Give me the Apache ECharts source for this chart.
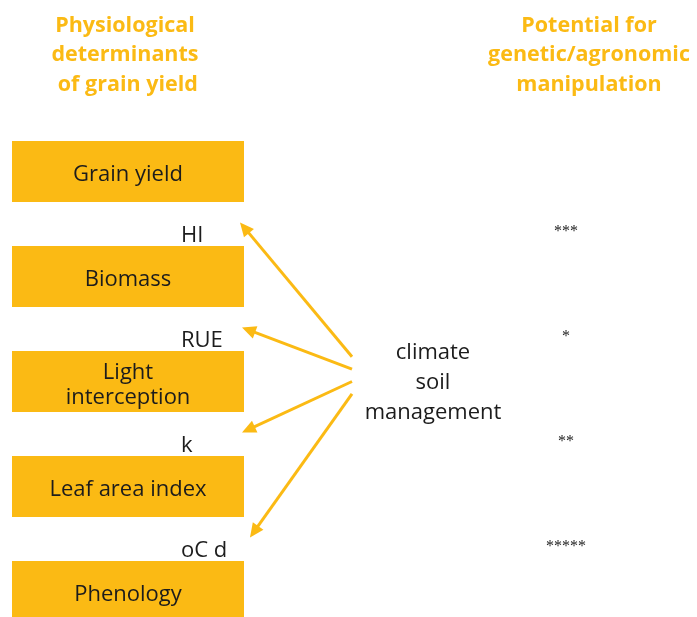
<!DOCTYPE html>
<html><head><meta charset="utf-8">
<script src="https://cdn.jsdelivr.net/npm/echarts@6/dist/echarts.min.js"></script>
<style>html,body{margin:0;padding:0;background:#fff}#c{width:697px;height:617px}</style>
</head><body><div id="c"></div>
<script>
// ---- content ----
const headerLeft = ['Physiological', 'determinants', ' of grain yield'];
const headerRight = ['Potential for', 'genetic/agronomic', 'manipulation'];
const boxLabels = ['Grain yield', 'Biomass', 'Light\ninterception', 'Leaf area index', 'Phenology'];
const traitLabels = ['HI', 'RUE', 'k', 'oC d'];
const potentialStars = ['***', '*', '**', '*****'];
const drivers = ['climate', 'soil', 'management'];

// ---- style ----
const ORANGE = '#FBBA14';
const INK = '#1c1c1c';
const SANS = '"Open Sans", Lato, sans-serif';
const DY = 2.5; // baseline nudge for sans text

const chart = echarts.init(document.getElementById('c'), null, {renderer: 'canvas'});

function textEl(x, y, text, opt) {
  return {
    type: 'text', x: x, y: y, silent: true,
    style: Object.assign({
      text: text, fill: INK, fontFamily: SANS, fontSize: 22,
      align: 'center', verticalAlign: 'middle',
      textAlign: 'center', textVerticalAlign: 'middle'
    }, opt || {})
  };
}

const series = [
  // boxes
  {
    type: 'custom', coordinateSystem: 'cartesian2d', clip: false, silent: true,
    data: boxLabels.map((l, i) => [128, i]),
    renderItem: function (params, api) {
      const i = params.dataIndex;
      const a = api.coord([12, i - 0.2905]);
      const b = api.coord([244, i + 0.2905]);
      const c = api.coord([128, i]);
      return {
        type: 'group', children: [
          {type: 'rect', shape: {x: a[0], y: a[1], width: b[0] - a[0], height: b[1] - a[1]}, style: {fill: ORANGE}},
          textEl(c[0], c[1] + DY + 1, boxLabels[i], {lineHeight: 25})
        ]
      };
    }
  },
  // trait labels
  {
    type: 'custom', coordinateSystem: 'cartesian2d', clip: false, silent: true,
    data: traitLabels.map((l, i) => [181, i + 0.585]),
    renderItem: function (params, api) {
      const p = api.coord([api.value(0), api.value(1)]);
      return textEl(p[0], p[1] + DY + 0.5, traitLabels[params.dataIndex], {align: 'left', textAlign: 'left'});
    }
  },
  // potential stars
  {
    type: 'custom', coordinateSystem: 'cartesian2d', clip: false, silent: true,
    data: potentialStars.map((l, i) => [566, i + 0.57]),
    renderItem: function (params, api) {
      const p = api.coord([api.value(0), api.value(1)]);
      return textEl(p[0], p[1], potentialStars[params.dataIndex], {fontFamily: '"Liberation Serif", serif', fontSize: 16});
    }
  },
  // drivers text
  {
    type: 'custom', coordinateSystem: 'cartesian2d', clip: false, silent: true,
    data: drivers.map((l, i) => [433, 1.7 + i * 0.2857]),
    renderItem: function (params, api) {
      const p = api.coord([api.value(0), api.value(1)]);
      return textEl(p[0], p[1] + DY, drivers[params.dataIndex]);
    }
  },
  // arrows from drivers to trait gaps
  {
    type: 'custom', coordinateSystem: 'cartesian2d', clip: false, silent: true,
    data: traitLabels.map((l, i) => [i + 0.485, 1.764 + i * 0.118]),
    renderItem: function (params, api) {
      const i = params.dataIndex;
      const tipX = [240, 242, 242, 250][i];
      const s = api.coord([352, api.value(1)]);
      const t = api.coord([tipX, api.value(0)]);
      const dx = t[0] - s[0], dy = t[1] - s[1];
      const len = Math.sqrt(dx * dx + dy * dy);
      const ux = dx / len, uy = dy / len;
      const px = -uy, py = ux;
      const hl = 14, hw = 6.5;
      const bx = t[0] - ux * hl, by = t[1] - uy * hl;
      return {
        type: 'group', children: [
          {type: 'line', shape: {x1: s[0], y1: s[1], x2: bx + ux * 3, y2: by + uy * 3},
           style: {stroke: ORANGE, lineWidth: 3}},
          {type: 'polygon', shape: {points: [[t[0], t[1]], [bx + px * hw, by + py * hw], [bx - px * hw, by - py * hw]]},
           style: {fill: ORANGE}}
        ]
      };
    }
  },
  // headers
  {
    type: 'custom', coordinateSystem: 'cartesian2d', clip: false, silent: true,
    data: headerLeft.map((l, i) => [125, -1.414 + i * 0.2825]),
    renderItem: function (params, api) {
      const p = api.coord([api.value(0), api.value(1)]);
      return textEl(p[0], p[1] + DY, headerLeft[params.dataIndex], {fill: ORANGE, fontWeight: 'bold', fontSize: 21.5});
    }
  },
  {
    type: 'custom', coordinateSystem: 'cartesian2d', clip: false, silent: true,
    data: headerRight.map((l, i) => [589, -1.414 + i * 0.2825]),
    renderItem: function (params, api) {
      const p = api.coord([api.value(0), api.value(1)]);
      return textEl(p[0], p[1] + DY, headerRight[params.dataIndex], {fill: ORANGE, fontWeight: 'bold', fontSize: 21.5});
    }
  }
];

chart.setOption({
  animation: false,
  backgroundColor: '#ffffff',
  grid: {left: 0, right: 0, top: 0, bottom: 0, containLabel: false},
  xAxis: {type: 'value', min: 0, max: 697, show: false},
  yAxis: {type: 'value', min: -171.5 / 105, max: (617 - 171.5) / 105, inverse: true, show: false},
  series: series
});
</script>
</body></html>
